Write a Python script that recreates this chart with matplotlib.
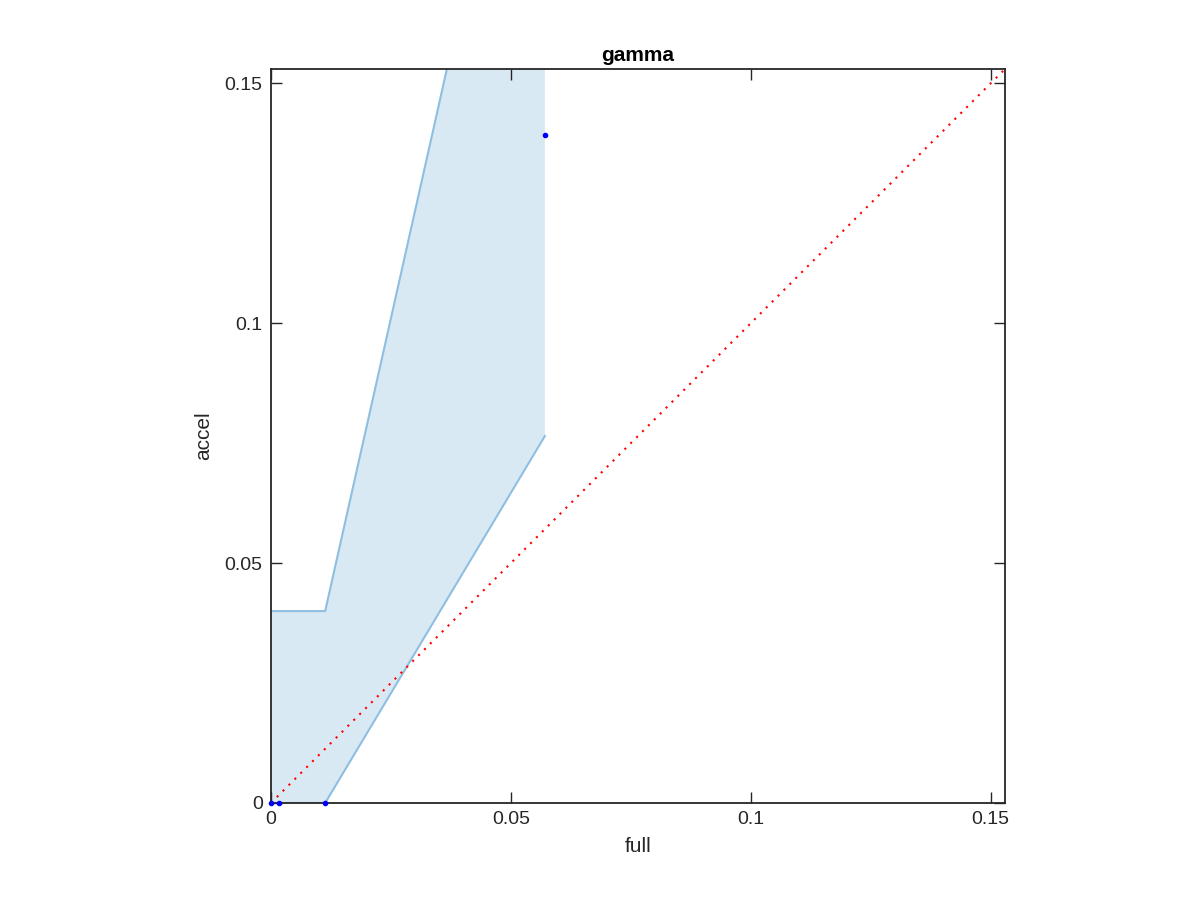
import numpy as np
import matplotlib
matplotlib.use("Agg")
import matplotlib.pyplot as plt

plt.rcParams["font.family"] = ["Liberation Sans", "DejaVu Sans"]

# ── Data ────────────────────────────────────────────────────────────────
full = [0.0, 0.0017, 0.0113, 0.0571]
accel = [0.0, 0.0, 0.0, 0.1393]
band_x = [0.0, 0.0017, 0.0113, 0.0571]
band_lo = [0.0, 0.0, 0.0, 0.0765]
band_hi = [0.040, 0.040, 0.040, 0.244]
lim = 0.153
ticks = [0, 0.05, 0.1, 0.15]
tick_labels = ["0", "0.05", "0.1", "0.15"]

fig = plt.figure(figsize=(12, 9), dpi=100)
ax = fig.add_axes([0.2258, 0.1078, 0.8375 - 0.2258, 0.9233 - 0.1078])

ax.fill_between(band_x, band_lo, band_hi, facecolor="#d9e9f4",
                edgecolor="none", zorder=1)
ax.plot(band_x, band_lo, color="#8fbfe0", lw=1.5, zorder=2)
ax.plot(band_x, band_hi, color="#8fbfe0", lw=1.5, zorder=2)
ax.plot([0, lim], [0, lim], color="red", ls=(0, (1, 3)), lw=1.5, zorder=3)
ax.plot(full, accel, "o", color="blue", ms=3, zorder=4, clip_on=False)

ax.set_xlim(0, lim)
ax.set_ylim(0, lim)
ax.set_xticks(ticks)
ax.set_xticklabels(tick_labels)
ax.set_yticks(ticks)
ax.set_yticklabels(tick_labels)
ax.tick_params(direction="in", length=8, width=1, top=True, right=True,
               labelsize=14, colors="#262626", pad=6)
for s in ax.spines.values():
    s.set_linewidth(1.3)
    s.set_color("#262626")

ax.set_xlabel("full", fontsize=15, color="#262626", labelpad=6)
ax.set_ylabel("accel", fontsize=15, color="#262626", labelpad=8)
ax.set_title("gamma", fontsize=15, fontweight="bold", pad=6)

fig.savefig("out.png", dpi=100)
